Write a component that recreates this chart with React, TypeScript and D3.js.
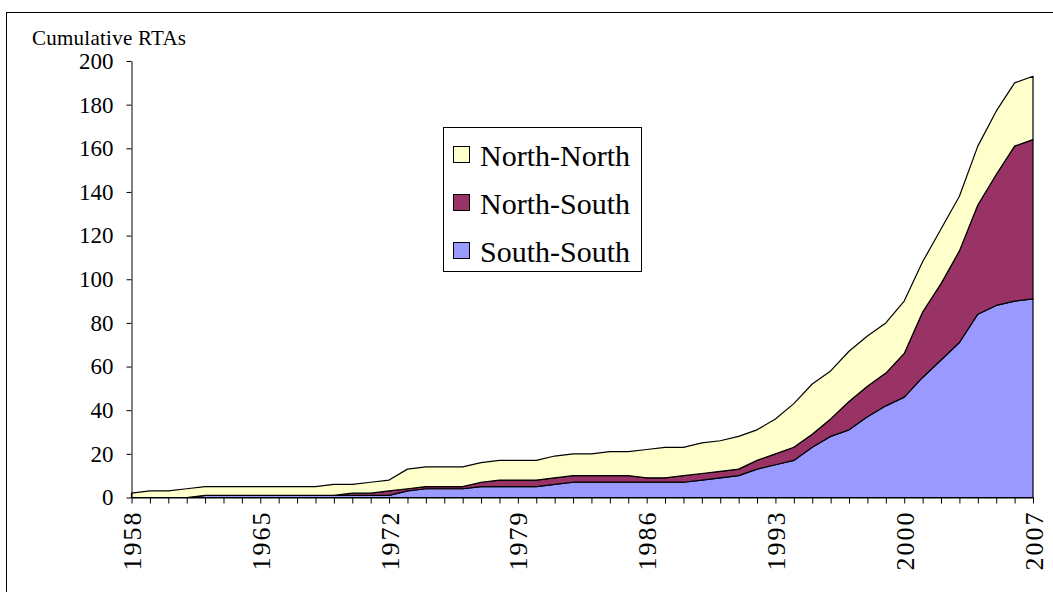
import { useEffect, useRef } from "react";
import * as d3 from "d3";

const years = d3.range(1958, 2008);

const southSouth = [
  0, 0, 0, 0, 1, 1, 1, 1, 1, 1, 1, 1, 1, 1, 1, 3, 4, 4, 4, 5, 5, 5, 5, 6, 7,
  7, 7, 7, 7, 7, 7, 8, 9, 10, 13, 15, 17, 23, 28, 31, 37, 42, 46, 55, 63, 71,
  84, 88, 90, 91,
];

const northSouth = [
  0, 0, 0, 0, 0, 0, 0, 0, 0, 0, 0, 0, 1, 1, 2, 1, 1, 1, 1, 2, 3, 3, 3, 3, 3,
  3, 3, 3, 2, 2, 3, 3, 3, 3, 4, 5, 6, 6, 8, 13, 14, 15, 20, 30, 35, 42, 50,
  60, 71, 73,
];

const northNorth = [
  2, 3, 3, 4, 4, 4, 4, 4, 4, 4, 4, 5, 4, 5, 5, 9, 9, 9, 9, 9, 9, 9, 9, 10,
  10, 10, 11, 11, 13, 14, 13, 14, 14, 15, 14, 16, 20, 23, 22, 23, 23, 23, 24,
  23, 25, 25, 27, 29, 29, 29,
];

const seriesNames = ["South-South", "North-South", "North-North"];
const seriesColors = ["#9999FF", "#993366", "#FFFFCC"];
const yTicks = d3.range(0, 201, 20);
const yearLabels = [1958, 1965, 1972, 1979, 1986, 1993, 2000, 2007];

function AreaChart() {
  const svgRef = useRef(null);

  useEffect(() => {
    const svg = d3.select(svgRef.current);
    svg.selectAll("*").remove();
    const font = "Liberation Serif, DejaVu Serif, serif";

    const rows = years.map((yr, i) => ({
      year: yr,
      "South-South": southSouth[i],
      "North-South": northSouth[i],
      "North-North": northNorth[i],
    }));

    const x = d3.scaleLinear().domain([1958, 2007]).range([131.5, 1033]);
    const y = d3.scaleLinear().domain([0, 200]).range([497.5, 61]);

    // outer frame, cut off at right and bottom
    svg
      .append("rect")
      .attr("x", 6.5)
      .attr("y", 12.5)
      .attr("width", 1200)
      .attr("height", 800)
      .attr("fill", "#fff")
      .attr("stroke", "#000");

    svg
      .append("text")
      .attr("x", 32)
      .attr("y", 45)
      .style("font-family", font)
      .style("font-size", "21px")
      .attr("textLength", 154)
      .text("Cumulative RTAs");

    const stack = d3.stack().keys(seriesNames);
    const layers = stack(rows);

    const area = d3
      .area()
      .x((d) => x(d.data.year))
      .y0((d) => y(d[0]))
      .y1((d) => y(d[1]));

    svg
      .append("g")
      .selectAll("path")
      .data(layers)
      .enter()
      .append("path")
      .attr("d", area)
      .attr("fill", (d, i) => seriesColors[i])
      .attr("stroke", "#000")
      .attr("stroke-width", 1.2)
      .attr("stroke-linejoin", "round");

    const yAxis = svg
      .append("g")
      .attr("transform", `translate(${x(1958)},0)`)
      .call(
        d3
          .axisLeft(y)
          .tickValues(yTicks)
          .tickSize(5)
          .tickSizeOuter(0)
          .tickPadding(13)
      );
    yAxis
      .selectAll("text")
      .style("font-family", font)
      .style("font-size", "23px")
      .attr("fill", "#000");

    const xAxis = svg
      .append("g")
      .attr("transform", `translate(0,${y(0)})`)
      .call(
        d3
          .axisBottom(x)
          .tickValues(years)
          .tickSize(6)
          .tickSizeOuter(0)
          .tickFormat((d) => (yearLabels.includes(d) ? String(d) : ""))
      );
    xAxis
      .selectAll("text")
      .style("font-family", font)
      .style("font-size", "26px")
      .attr("fill", "#000")
      .attr("text-anchor", "end")
      .attr("transform", "rotate(-90)")
      .attr("x", -15)
      .attr("y", 0)
      .attr("dy", "0.35em")
      .attr("textLength", (d) => (yearLabels.includes(d) ? 58 : null));

    svg.selectAll(".domain, .tick line").attr("stroke", "#000");

    // legend
    const legend = svg.append("g");
    legend
      .append("rect")
      .attr("x", 443.5)
      .attr("y", 127.5)
      .attr("width", 198)
      .attr("height", 144)
      .attr("fill", "#fff")
      .attr("stroke", "#000");

    const legendOrder = ["North-North", "North-South", "South-South"];
    legendOrder.forEach((name, i) => {
      const cy = 155 + i * 48;
      legend
        .append("rect")
        .attr("x", 453.5)
        .attr("y", cy - 8.5)
        .attr("width", 16)
        .attr("height", 16)
        .attr("fill", seriesColors[seriesNames.indexOf(name)])
        .attr("stroke", "#000");
      legend
        .append("text")
        .attr("x", 480)
        .attr("y", cy)
        .attr("dy", "0.35em")
        .style("font-family", font)
        .style("font-size", "30px")
        .text(name);
    });
  }, []);

  return <svg ref={svgRef} width="1053" height="592"></svg>;
}

export default function App() {
  return (
    <div style={{ position: "absolute", left: 0, top: 0 }}>
      <AreaChart />
    </div>
  );
}
